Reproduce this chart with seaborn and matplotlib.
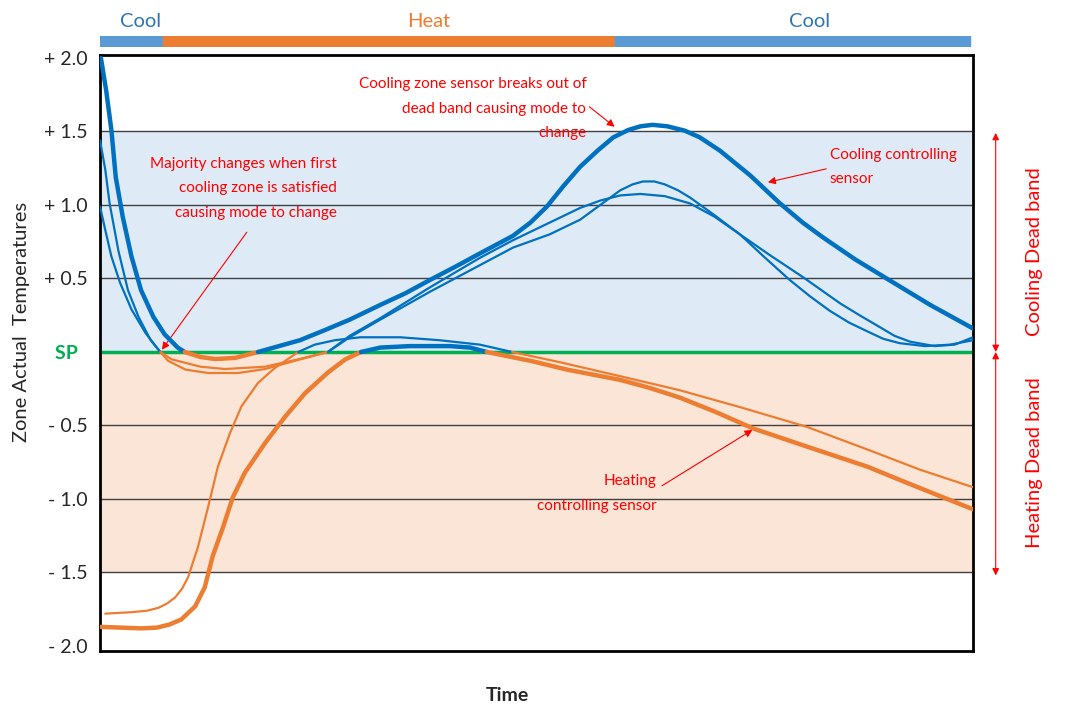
import matplotlib
matplotlib.use("Agg")
import matplotlib.pyplot as plt
import seaborn as sns

# time as % of the cycle, values in degrees away from the set point
cool_ctrl_t = [0.1, 0.7, 1.3, 1.8, 2.6, 3.6, 4.7, 6.1, 7.4, 8.9, 9.7, 11.5, 13.2, 15.5, 18.1, 20.5, 22.9, 25.8, 28.6,
               32.1, 35.0, 37.8, 40.7, 43.5, 47.3, 49.3, 51.2, 53.1, 55.0, 57.0, 58.8, 60.5, 61.9, 63.3, 65.0, 67.0,
               68.7, 71.0, 74.5, 77.9, 80.5, 82.8, 86.5, 90.1, 95.1, 100]
cool_ctrl_v = [2.0, 1.78, 1.51, 1.19, 0.92, 0.65, 0.42, 0.24, 0.12, 0.03, 0.0, -0.034, -0.048, -0.04, 0.0, 0.04, 0.08,
               0.15, 0.22, 0.32, 0.40, 0.49, 0.58, 0.67, 0.79, 0.88, 0.99, 1.13, 1.26, 1.37, 1.46, 1.51, 1.535, 1.545,
               1.535, 1.505, 1.46, 1.37, 1.20, 1.01, 0.88, 0.78, 0.63, 0.50, 0.32, 0.16]

cool_a_t = [0, 0.6, 1.1, 2.1, 3.2, 4.4, 5.8, 6.9, 7.8, 9.8, 12.4, 15.8, 18.9, 22.7, 26.1, 28.6, 32.1, 37.8, 43.5,
            47.3, 51.5, 55.0, 57.3, 59.6, 61.0, 62.2, 63.5, 64.7, 66.2, 67.6, 70.4, 73.3, 76.2, 79.0, 81.3, 83.6,
            85.8, 87.9, 89.7, 91.6, 94.5, 97.4, 100]
cool_a_v = [1.44, 1.24, 1.01, 0.69, 0.42, 0.24, 0.08, 0.0, -0.06, -0.12, -0.143, -0.143, -0.116, -0.054, 0.0, 0.10,
            0.22, 0.41, 0.59, 0.71, 0.80, 0.90, 1.00, 1.10, 1.14, 1.16, 1.16, 1.14, 1.10, 1.05, 0.93, 0.80, 0.64,
            0.49, 0.38, 0.28, 0.20, 0.14, 0.09, 0.06, 0.04, 0.05, 0.08]

cool_b_t = [0, 0.6, 1.3, 2.3, 3.6, 5.2, 6.9, 8.2, 11.5, 14.3, 18.9, 22.7, 26.1, 28.6, 32.1, 37.8, 43.5, 47.3, 51.5,
            55.0, 57.3, 59.6, 61.9, 64.7, 67.6, 70.4, 73.3, 76.7, 80.5, 84.8, 87.0, 89.3, 91.0, 92.8, 95.6, 97.9, 100]
cool_b_v = [0.99, 0.83, 0.65, 0.47, 0.29, 0.13, 0.0, -0.05, -0.10, -0.116, -0.10, -0.05, 0.0, 0.11, 0.23, 0.44, 0.64,
            0.76, 0.88, 0.98, 1.03, 1.065, 1.075, 1.06, 1.01, 0.92, 0.80, 0.66, 0.51, 0.33, 0.25, 0.17, 0.11, 0.07,
            0.04, 0.05, 0.10]

heat_ctrl_t = [0.1, 4.7, 6.5, 7.9, 9.3, 10.9, 12.0, 12.9, 14.1, 15.2, 16.6, 18.9, 21.2, 23.5, 26.1, 28.1, 29.9,
               32.1, 35.5, 40.1, 42.4, 44.3, 49.3, 53.5, 59.6, 63.0, 66.4, 70.6, 74.8, 81.3, 87.9, 91.6, 96.2, 100]
heat_ctrl_v = [-1.87, -1.88, -1.875, -1.855, -1.82, -1.73, -1.60, -1.39, -1.19, -0.99, -0.82, -0.62, -0.44, -0.28,
               -0.14, -0.05, 0.0, 0.03, 0.04, 0.04, 0.03, 0.0, -0.06, -0.12, -0.19, -0.245, -0.31, -0.41, -0.52,
               -0.65, -0.78, -0.87, -0.98, -1.07]

heat_b_t = [0.6, 3.6, 5.4, 6.7, 7.7, 8.6, 9.4, 10.1, 11.2, 12.4, 13.5, 14.9, 16.2, 18.1, 20.0, 22.7, 24.6, 26.9,
            29.8, 34.4, 38.9, 43.5, 47.2, 52.7, 59.6, 66.4, 73.3, 81.0, 88.2, 93.9, 100]
heat_b_v = [-1.78, -1.77, -1.76, -1.74, -1.71, -1.67, -1.61, -1.53, -1.33, -1.05, -0.78, -0.55, -0.37, -0.21, -0.11,
            0.0, 0.05, 0.08, 0.10, 0.10, 0.08, 0.05, 0.0, -0.07, -0.165, -0.26, -0.375, -0.51, -0.67, -0.80, -0.92]

# mode bar along the top
mode_names = ["Cool", "Heat", "Cool"]
mode_start = [0, 7.2, 59.0]
mode_end = [7.2, 59.0, 99.7]
mode_label_t = [4.6, 37.6, 81.3]

ytick_vals = [2.0, 1.5, 1.0, 0.5, 0.0, -0.5, -1.0, -1.5, -2.0]
ytick_labels = ["+ 2.0", "+ 1.5", "+ 1.0", "+ 0.5", "SP  ", "- 0.5", "- 1.0", "- 1.5", "- 2.0"]

BLUE = "#0070C0"
ORANGE = "#ED7D31"
RED = "#FF0000"
GREEN = "#00B050"

sns.set_style("white")
plt.rcParams["font.family"] = ["Lato", "DejaVu Sans"]


def split_by_sign(t, v):
    # break a sensor trace at the set point so each piece gets one colour
    runs = []
    cur_t, cur_v = [t[0]], [v[0]]
    for ti, vi in zip(t[1:], v[1:]):
        cur_t.append(ti)
        cur_v.append(vi)
        if vi == 0:
            runs.append((cur_t, cur_v))
            cur_t, cur_v = [ti], [vi]
    if len(cur_t) > 1:
        runs.append((cur_t, cur_v))
    return runs


def draw_sensor(ax, t, v, lw):
    for rt, rv in split_by_sign(t, v):
        above = sum(rv) > 0
        sns.lineplot(x=rt, y=rv, sort=False, estimator=None, ax=ax, lw=lw,
                     color=BLUE if above else ORANGE, solid_capstyle="round",
                     solid_joinstyle="round", zorder=5)


fig = plt.figure(figsize=(10.71, 7.10), dpi=100)
ax = fig.add_axes([0.0934, 0.0831, 0.8151, 0.8394])

ax.axhspan(0, 1.5, color="#DEEBF7", zorder=0, lw=0)
ax.axhspan(-1.5, 0, color="#FBE5D6", zorder=0, lw=0)
for g in [1.5, 1.0, 0.5, -0.5, -1.0, -1.5]:
    ax.axhline(g, color="#404040", lw=1, zorder=1)
ax.axhline(0, color=GREEN, lw=2.5, zorder=2)

draw_sensor(ax, cool_a_t, cool_a_v, 1.6)
draw_sensor(ax, cool_b_t, cool_b_v, 1.6)
draw_sensor(ax, heat_b_t, heat_b_v, 1.6)
draw_sensor(ax, heat_ctrl_t, heat_ctrl_v, 3.2)
draw_sensor(ax, cool_ctrl_t, cool_ctrl_v, 3.2)

ax.set_xlim(0, 100)
ax.set_ylim(-2.034, 2.02)
ax.set_xticks([])
ax.set_yticks(ytick_vals)
ax.set_yticklabels(ytick_labels, fontsize=14)
ax.tick_params(axis="y", length=0, pad=9)
sp_label = ax.get_yticklabels()[4]
sp_label.set_color(GREEN)
sp_label.set_fontweight("bold")
ax.set_ylabel("Zone Actual  Temperatures", fontsize=14.5)
ax.yaxis.set_label_coords(-0.080, 0.552)
ax.set_xlabel("")
fig.text(0.4734, 0.0211, "Time", fontsize=14, fontweight="bold", ha="center", va="center")
for s in ax.spines.values():
    s.set_color("black")
    s.set_linewidth(2)

# annotations
arrow = dict(arrowstyle="-|>", color=RED, lw=0.8, mutation_scale=11)


def note(lines, x, y0, ha):
    for i, line in enumerate(lines):
        ax.text(x, y0 - i * 0.166, line, color=RED, fontsize=11, ha=ha, va="center")


note(["Majority changes when first", "cooling zone is satisfied", "causing mode to change"], 27.1, 1.28, "right")
ax.annotate("", xy=(6.9, 0.0), xytext=(17.0, 0.83), arrowprops=arrow)

note(["Cooling zone sensor breaks out of", "dead band causing mode to", "change"], 55.7, 1.82, "right")
ax.annotate("", xy=(59.2, 1.52), xytext=(55.8, 1.68), arrowprops=arrow)

note(["Cooling controlling", "sensor"], 83.6, 1.34, "left")
ax.annotate("", xy=(76.2, 1.15), xytext=(83.5, 1.25), arrowprops=arrow)

note(["Heating", "controlling sensor"], 63.8, -0.88, "right")
ax.annotate("", xy=(75.0, -0.52), xytext=(64.1, -0.92), arrowprops=arrow)

# dead band arrows on the right
band = dict(arrowstyle="<|-|>", color=RED, lw=0.8, mutation_scale=10, shrinkA=0, shrinkB=0)
ax.annotate("", xy=(1.026, 1.49), xytext=(1.026, 0.0), xycoords=("axes fraction", "data"),
            arrowprops=band, annotation_clip=False)
ax.annotate("", xy=(1.026, -1.52), xytext=(1.026, 0.0), xycoords=("axes fraction", "data"),
            arrowprops=band, annotation_clip=False)
ax.text(1.071, 0.68, "Cooling Dead band", transform=ax.get_yaxis_transform(), rotation=90,
        color=RED, fontsize=14.5, ha="center", va="center")
ax.text(1.071, -0.75, "Heating Dead band", transform=ax.get_yaxis_transform(), rotation=90,
        color=RED, fontsize=14.5, ha="center", va="center")

# mode bar
bar_ax = fig.add_axes([0.0934, 0.9352, 0.8151, 0.0141])
for name, a, b, lt in zip(mode_names, mode_start, mode_end, mode_label_t):
    bar_ax.broken_barh([(a, b - a)], (0, 1), color="#5B9BD5" if name == "Cool" else ORANGE)
    bar_ax.text(lt, 2.4, name, color="#2E75B6" if name == "Cool" else ORANGE,
                fontsize=14.5, ha="center", va="center")
bar_ax.set_xlim(0, 100)
bar_ax.set_ylim(0, 1)
bar_ax.axis("off")

fig.savefig("out.png", dpi=100)
